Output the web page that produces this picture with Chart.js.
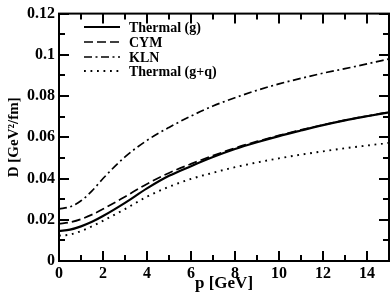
<!DOCTYPE html>
<html>
<head>
<meta charset="utf-8">
<script src="https://cdn.jsdelivr.net/npm/chart.js@4/dist/chart.umd.min.js"></script>
<style>
  html, body { margin: 0; padding: 0; background: #fff; }
  #wrap { width: 391px; height: 297px; }
</style>
</head>
<body>
<div id="wrap"><canvas id="c" width="391" height="297"></canvas></div>
<script>
const pValues   = [0, 0.5, 1, 1.5, 2, 3, 4, 5, 6, 7, 8, 9, 10, 11, 12, 13, 14, 15];
const thermalG  = [0.0146, 0.0152, 0.0168, 0.0190, 0.0218, 0.0282, 0.0352, 0.0413, 0.0460, 0.0504, 0.0543, 0.0576, 0.0606, 0.0633, 0.0659, 0.0682, 0.0702, 0.0721];
const cym       = [0.0180, 0.0188, 0.0203, 0.0225, 0.0252, 0.0312, 0.0374, 0.0427, 0.0471, 0.0511, 0.0548, 0.0580, 0.0609, 0.0636, 0.0660, 0.0683, 0.0703, 0.0722];
const kln       = [0.0252, 0.0263, 0.0292, 0.0340, 0.0400, 0.0505, 0.0585, 0.0648, 0.0703, 0.0752, 0.0792, 0.0828, 0.0859, 0.0886, 0.0911, 0.0933, 0.0956, 0.0980];
const thermalGQ = [0.0123, 0.0128, 0.0145, 0.0168, 0.0195, 0.0252, 0.0312, 0.0360, 0.0398, 0.0428, 0.0455, 0.0478, 0.0498, 0.0516, 0.0532, 0.0547, 0.0560, 0.0573];
const seriesLabels = ['Thermal (g)', 'CYM', 'KLN', 'Thermal (g+q)'];
const xMajorTicks = [0, 2, 4, 6, 8, 10, 12, 14];

const SERIF = '"Liberation Serif", "Times New Roman", serif';

function pts(ys) { return pValues.map((p, i) => ({ x: p, y: ys[i] })); }

const styles = [
  { borderWidth: 2.2, borderDash: [] },
  { borderWidth: 1.7, borderDash: [9, 4] },
  { borderWidth: 1.7, borderDash: [8, 3.5, 2, 3.5] },
  { borderWidth: 1.9, borderDash: [1.8, 4.7] }
];
const allSeries = [thermalG, cym, kln, thermalGQ];

const datasets = allSeries.map((s, i) => ({
  label: seriesLabels[i],
  data: pts(s),
  borderColor: '#000',
  borderWidth: styles[i].borderWidth,
  borderDash: styles[i].borderDash,
  pointRadius: 0,
  fill: false,
  cubicInterpolationMode: 'monotone',
  borderCapStyle: 'butt'
}));

const framePlugin = {
  id: 'frame',
  afterDatasetsDraw(chart) {
    const ctx = chart.ctx;
    const xs = chart.scales.x, ys = chart.scales.y;
    const a = chart.chartArea;
    ctx.save();
    ctx.strokeStyle = '#000';
    ctx.lineWidth = 2;
    ctx.setLineDash([]);
    ctx.beginPath();
    for (let v = 0; v <= 15; v += 1) {
      const px = Math.round(xs.getPixelForValue(v));
      const len = (v % 2 === 0) ? 10 : 6;
      ctx.moveTo(px, a.bottom); ctx.lineTo(px, a.bottom - len);
      ctx.moveTo(px, a.top); ctx.lineTo(px, a.top + len);
    }
    for (let k = 0; k <= 12; k++) {
      const v = k * 0.01;
      const py = Math.round(ys.getPixelForValue(v));
      const len = (k % 2 === 0) ? 10 : 6;
      ctx.moveTo(a.left, py); ctx.lineTo(a.left + len, py);
      ctx.moveTo(a.right, py); ctx.lineTo(a.right - len, py);
    }
    ctx.stroke();
    ctx.strokeRect(a.left, a.top, a.right - a.left, a.bottom - a.top);

    const rows = [27, 42, 57, 71];
    chart.data.datasets.forEach((ds, i) => {
      const y = rows[i];
      ctx.beginPath();
      ctx.lineWidth = ds.borderWidth;
      ctx.setLineDash(ds.borderDash);
      ctx.moveTo(84, y); ctx.lineTo(120, y);
      ctx.stroke();
      ctx.setLineDash([]);
      ctx.fillStyle = '#000';
      ctx.font = 'bold 14px ' + SERIF;
      ctx.textBaseline = 'middle';
      ctx.textAlign = 'left';
      ctx.fillText(ds.label, 129, y + 1);
    });
    ctx.restore();
  }
};

new Chart(document.getElementById('c'), {
  type: 'line',
  data: { datasets },
  options: {
    responsive: false,
    animation: false,
    layout: { padding: { top: 7, right: 2, left: 0, bottom: 0 } },
    plugins: { legend: { display: false }, tooltip: { enabled: false } },
    scales: {
      x: {
        type: 'linear', min: 0, max: 15,
        afterFit(s) { s.height = 36; },
        afterBuildTicks(s) { s.ticks = xMajorTicks.map(v => ({ value: v })); },
        grid: { display: false, drawTicks: false },
        border: { display: false },
        ticks: { color: '#000', font: { family: SERIF, size: 16, weight: 'bold' }, padding: 3, maxRotation: 0, autoSkip: false },
        title: { display: true, text: 'p [GeV]', color: '#000', font: { family: SERIF, size: 17, weight: 'bold' }, padding: { top: 0, bottom: 3 } }
      },
      y: {
        type: 'linear', min: 0, max: 0.12,
        afterFit(s) { s.width = 59; },
        grid: { display: false, drawTicks: false },
        border: { display: false },
        ticks: {
          stepSize: 0.02, color: '#000', padding: 4,
          font: { family: SERIF, size: 16, weight: 'bold' },
          callback: v => { const r = Math.round(v * 100) / 100; return r === 0 ? '0' : String(r); }
        },
        title: { display: true, text: 'D [GeV²/fm]', color: '#000', font: { family: SERIF, size: 15, weight: 'bold' }, padding: { top: 5, bottom: 0 } }
      }
    }
  },
  plugins: [framePlugin]
});
</script>
</body>
</html>
